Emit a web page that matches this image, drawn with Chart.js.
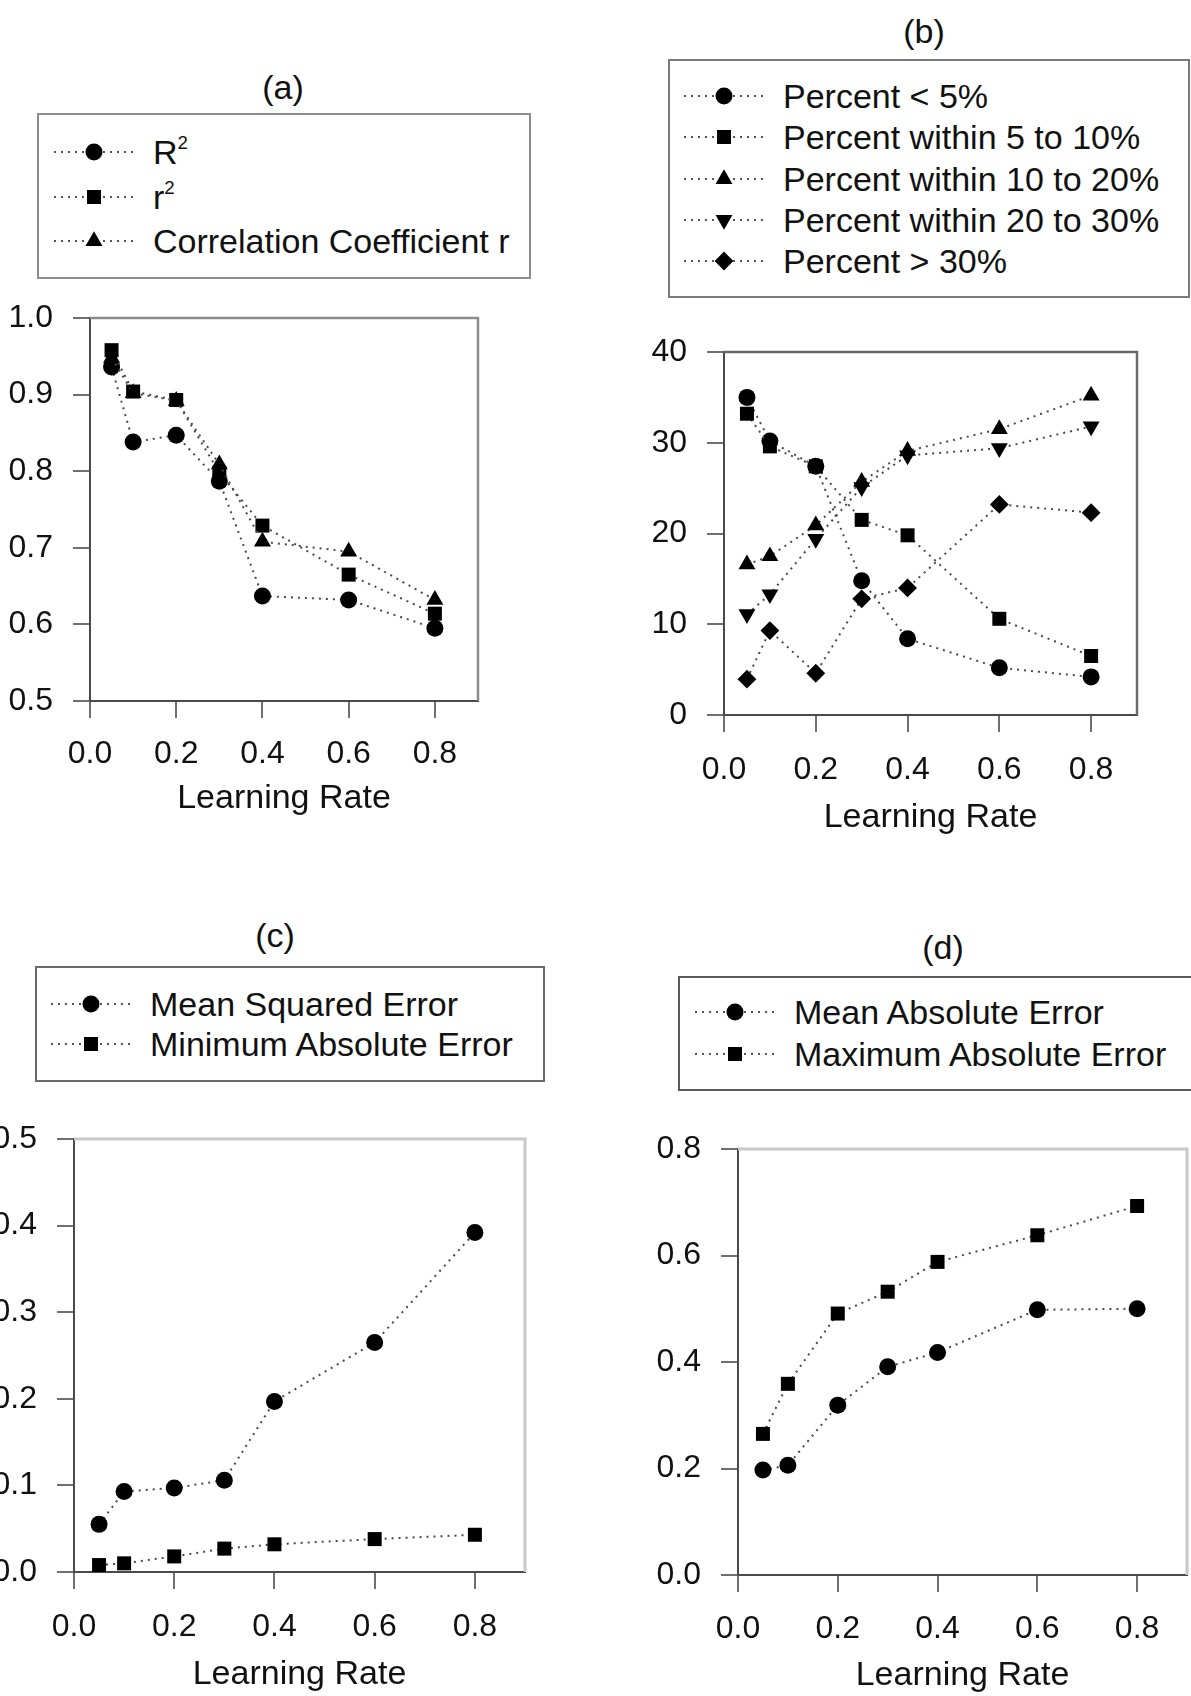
<!DOCTYPE html>
<html>
<head>
<meta charset="utf-8">
<script src="https://cdn.jsdelivr.net/npm/chart.js@4.4.1/dist/chart.umd.min.js"></script>
<style>
  html, body { margin: 0; padding: 0; background: #fff; }
  body { width: 1191px; height: 1696px; position: relative; overflow: hidden;
         font-family: "Liberation Sans", Arial, Helvetica, sans-serif; color: #111; }
  canvas { position: absolute; }
  .title { position: absolute; font-size: 34px; line-height: 40px; white-space: nowrap; transform: translateX(-50%); }
  .legend { position: absolute; border: 2px solid #8a8a8a; box-sizing: border-box; background: #fff; z-index: 2; }
  .row { position: absolute; font-size: 34px; line-height: 40px; height: 40px; white-space: nowrap; z-index: 3; }
  .sym { position: absolute; z-index: 3; }
  sup { font-size: 55%; vertical-align: 0; position: relative; top: -0.8em; }
</style>
</head>
<body>
<script>
// ---------------- data ----------------
const learningRate = [0.05, 0.1, 0.2, 0.3, 0.4, 0.6, 0.8];
const xTicks = [0, 0.2, 0.4, 0.6, 0.8];
const xTitle = 'Learning Rate';

// (a)
const aTicks = [0.5, 0.6, 0.7, 0.8, 0.9, 1.0];
const aNames = ['R²', 'r²', 'Correlation Coefficient r'];
const aR2    = [0.936, 0.838, 0.847, 0.787, 0.637, 0.632, 0.595];
const ar2    = [0.958, 0.904, 0.893, 0.798, 0.729, 0.665, 0.614];
const aCorr  = [0.948, 0.902, 0.892, 0.809, 0.708, 0.695, 0.632];

// (b)
const bTicks = [0, 10, 20, 30, 40];
const bNames = ['Percent < 5%', 'Percent within 5 to 10%', 'Percent within 10 to 20%',
                'Percent within 20 to 30%', 'Percent > 30%'];
const bLt5   = [35.0, 30.2, 27.4, 14.8, 8.4, 5.2, 4.2];
const b5_10  = [33.2, 29.6, 27.4, 21.5, 19.8, 10.6, 6.5];
const b10_20 = [16.6, 17.5, 20.9, 25.7, 29.1, 31.5, 35.2];
const b20_30 = [11.1, 13.3, 19.4, 25.1, 28.6, 29.4, 31.8];
const bGt30  = [3.95, 9.3, 4.6, 12.8, 14.0, 23.2, 22.3];

// (c)
const cTicks = [0.0, 0.1, 0.2, 0.3, 0.4, 0.5];
const cNames = ['Mean Squared Error', 'Minimum Absolute Error'];
const cMSE   = [0.055, 0.093, 0.097, 0.106, 0.197, 0.265, 0.392];
const cMinAE = [0.008, 0.010, 0.018, 0.027, 0.032, 0.038, 0.043];

// (d)
const dTicks = [0.0, 0.2, 0.4, 0.6, 0.8];
const dNames = ['Mean Absolute Error', 'Maximum Absolute Error'];
const dMeanAE = [0.197, 0.206, 0.319, 0.391, 0.418, 0.498, 0.500];
const dMaxAE  = [0.265, 0.359, 0.491, 0.532, 0.588, 0.638, 0.693];

// ---------------- styles ----------------
const FONT = '"Liberation Sans", Arial, Helvetica, sans-serif';
const MARK = {
  circle:  { style: 'circle',   rot: 0,   r: 8.5 },
  square:  { style: 'rect',     rot: 0,   r: 9.9 },
  up:      { style: 'triangle', rot: 0,   r: 9.8 },
  down:    { style: 'triangle', rot: 180, r: 9.8 },
  diamond: { style: 'rectRot',  rot: 0,   r: 9.4 }
};

const plotBox = {
  id: 'plotBox',
  beforeDatasetsDraw(chart, args, opts) {
    const { ctx, chartArea: a } = chart;
    ctx.save();
    ctx.strokeStyle = opts.color;
    ctx.lineWidth = opts.width;
    ctx.beginPath();
    ctx.moveTo(a.left, a.top);
    ctx.lineTo(a.right, a.top);
    ctx.lineTo(a.right, a.bottom);
    ctx.stroke();
    ctx.restore();
  }
};

function symbolSVG(kind) {
  const m = MARK[kind];
  const cx = 40, cy = 12;
  let shape = '';
  if (kind === 'circle') shape = `<circle cx="${cx}" cy="${cy}" r="${m.r}" fill="#000"/>`;
  else if (kind === 'square') { const h = m.r * Math.SQRT1_2; shape = `<rect x="${cx-h}" y="${cy-h}" width="${2*h}" height="${2*h}" fill="#000"/>`; }
  else if (kind === 'up' || kind === 'down') {
    const s = kind === 'up' ? 1 : -1, r = m.r, xo = r * Math.sin(Math.PI/3), yo = r * 0.5;
    shape = `<polygon points="${cx},${cy - s*r} ${cx+xo},${cy + s*yo} ${cx-xo},${cy + s*yo}" fill="#000"/>`;
  } else if (kind === 'diamond') {
    const r = m.r;
    shape = `<polygon points="${cx-r},${cy} ${cx},${cy-r} ${cx+r},${cy} ${cx},${cy+r}" fill="#000"/>`;
  }
  return `<svg width="82" height="24" xmlns="http://www.w3.org/2000/svg">
    <line x1="0" y1="${cy}" x2="82" y2="${cy}" stroke="#555" stroke-width="2" stroke-dasharray="2 5"/>${shape}</svg>`;
}

function fmtLabel(t) { return t.replace('²', '<sup>2</sup>'); }

function makePanel(p) {
  // title
  const t = document.createElement('div');
  t.className = 'title';
  t.textContent = p.title;
  t.style.left = p.titleAt[0] + 'px';
  t.style.top = (p.titleAt[1] - 23) + 'px';
  document.body.appendChild(t);

  // legend box
  const lg = document.createElement('div');
  lg.className = 'legend';
  Object.assign(lg.style, { left: p.legend.left + 'px', top: p.legend.top + 'px',
    width: p.legend.width + 'px', height: p.legend.height + 'px', borderColor: p.legend.color });
  document.body.appendChild(lg);
  p.series.forEach((s, i) => {
    const y = p.legend.rows[i];
    const sym = document.createElement('div');
    sym.className = 'sym';
    sym.style.left = (p.legend.markerX - 40) + 'px';
    sym.style.top = (y - 12) + 'px';
    sym.innerHTML = symbolSVG(s.mark);
    document.body.appendChild(sym);
    const row = document.createElement('div');
    row.className = 'row';
    row.style.left = (p.legend.markerX + 59) + 'px';
    row.style.top = (y - 20) + 'px';
    row.innerHTML = fmtLabel(s.name);
    document.body.appendChild(row);
  });

  // chart canvas
  const c = p.canvas;
  const cv = document.createElement('canvas');
  cv.width = c.w; cv.height = c.h;
  cv.style.left = c.x + 'px'; cv.style.top = c.y + 'px';
  cv.style.width = c.w + 'px'; cv.style.height = c.h + 'px';
  document.body.appendChild(cv);

  const n = p.series.length;
  new Chart(cv, {
    type: 'line',
    data: {
      datasets: p.series.map((s, i) => ({
        label: s.name,
        data: learningRate.map((x, k) => ({ x: x, y: s.values[k] })),
        order: n - i,
        borderColor: '#4a4a4a',
        borderWidth: 2,
        borderDash: [2, 5],
        pointStyle: MARK[s.mark].style,
        pointRotation: MARK[s.mark].rot,
        pointRadius: MARK[s.mark].r,
        pointBackgroundColor: '#000',
        pointBorderColor: '#000',
        pointBorderWidth: 0,
        tension: 0,
        fill: false,
        clip: false
      }))
    },
    options: {
      responsive: false,
      animation: false,
      devicePixelRatio: 1,
      events: [],
      layout: { padding: { top: 45, right: 30, left: 0, bottom: 0 } },
      plugins: {
        legend: { display: false },
        tooltip: { enabled: false },
        plotBox: { color: p.boxColor, width: p.boxWidth }
      },
      scales: {
        x: {
          type: 'linear', position: 'bottom', min: 0, max: 0.9,
          afterBuildTicks: s => { s.ticks = xTicks.map(v => ({ value: v })); },
          afterFit: s => { s.height = c.hx; },
          ticks: { callback: v => Number(v).toFixed(1), font: { family: FONT, size: 32 },
                   color: '#111', padding: c.xpad, maxRotation: 0, autoSkip: false },
          grid: { drawOnChartArea: false, drawTicks: true, tickLength: 17, color: '#707070', lineWidth: 2 },
          border: { display: true, color: '#4a4a4a', width: 2 },
          title: { display: true, text: xTitle, font: { family: FONT, size: 34 }, color: '#111',
                   padding: { top: 0, bottom: c.tpad } }
        },
        y: {
          type: 'linear', position: 'left', min: p.yTicks[0], max: p.yTicks[p.yTicks.length - 1],
          afterBuildTicks: s => { s.ticks = p.yTicks.map(v => ({ value: v })); },
          afterFit: s => { s.width = 100; },
          ticks: { callback: p.yFmt, font: { family: FONT, size: 32 }, color: '#111',
                   padding: 20, autoSkip: false },
          grid: { drawOnChartArea: false, drawTicks: true, tickLength: 17, color: '#707070', lineWidth: 2 },
          border: { display: true, color: '#4a4a4a', width: 2 }
        }
      }
    },
    plugins: [plotBox]
  });
}

const f1 = v => Number(v).toFixed(1);
const f0 = v => String(v);

makePanel({
  title: '(a)', titleAt: [283, 90],
  legend: { left: 37, top: 113, width: 494, height: 166, markerX: 94, rows: [152, 197, 241], color: '#8c8c8c' },
  canvas: { x: -10, y: 273, w: 518, h: 546, hx: 118, xpad: 17, tpad: 0 },
  yTicks: aTicks, yFmt: f1, boxColor: '#8c8c8c', boxWidth: 2.5,
  series: [
    { name: aNames[0], values: aR2, mark: 'circle' },
    { name: aNames[1], values: ar2, mark: 'square' },
    { name: aNames[2], values: aCorr, mark: 'up' }
  ]
});

makePanel({
  title: '(b)', titleAt: [924, 34],
  legend: { left: 668, top: 59, width: 522, height: 239, markerX: 724, rows: [96, 137, 178.5, 219.5, 261], color: '#7a7a7a' },
  canvas: { x: 624, y: 307, w: 543, h: 531, hx: 123, xpad: 19, tpad: 0 },
  yTicks: bTicks, yFmt: f0, boxColor: '#6a6a6a', boxWidth: 2.5,
  series: [
    { name: bNames[0], values: bLt5, mark: 'circle' },
    { name: bNames[1], values: b5_10, mark: 'square' },
    { name: bNames[2], values: b10_20, mark: 'up' },
    { name: bNames[3], values: b20_30, mark: 'down' },
    { name: bNames[4], values: bGt30, mark: 'diamond' }
  ]
});

makePanel({
  title: '(c)', titleAt: [275, 938],
  legend: { left: 35, top: 966, width: 510, height: 116, markerX: 91, rows: [1004, 1044], color: '#6a6a6a' },
  canvas: { x: -26, y: 1094, w: 581, h: 601, hx: 123, xpad: 19, tpad: 0 },
  yTicks: cTicks, yFmt: f1, boxColor: '#c8c8c8', boxWidth: 3,
  series: [
    { name: cNames[0], values: cMSE, mark: 'circle' },
    { name: cNames[1], values: cMinAE, mark: 'square' }
  ]
});

makePanel({
  title: '(d)', titleAt: [943, 950],
  legend: { left: 678, top: 976, width: 520, height: 115, markerX: 735, rows: [1012, 1054], color: '#5a5a5a' },
  canvas: { x: 638, y: 1104, w: 579, h: 592, hx: 121, xpad: 18, tpad: 0 },
  yTicks: dTicks, yFmt: f1, boxColor: '#c8c8c8', boxWidth: 3,
  series: [
    { name: dNames[0], values: dMeanAE, mark: 'circle' },
    { name: dNames[1], values: dMaxAE, mark: 'square' }
  ]
});
</script>
</body>
</html>
